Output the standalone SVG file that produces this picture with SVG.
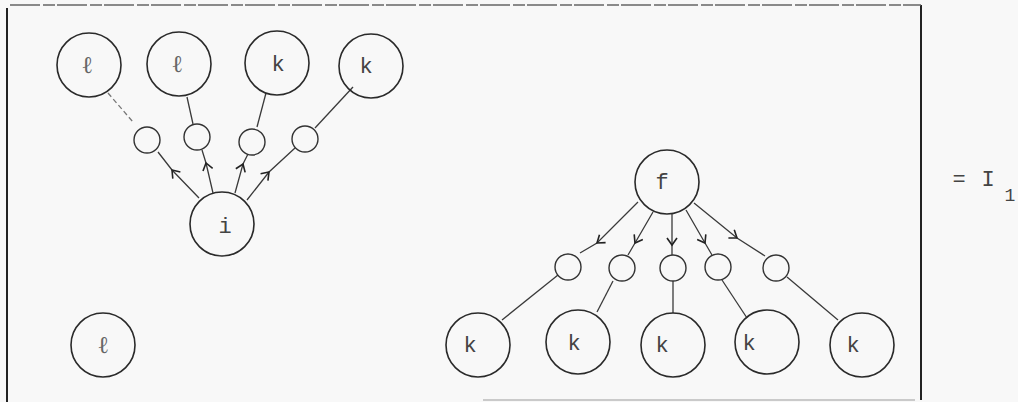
<svg xmlns="http://www.w3.org/2000/svg" width="1018" height="402" viewBox="0 0 1018 402">
<defs>
<style>
.n{fill:none;stroke:#2a2a2a;stroke-width:1.6}
.s{fill:none;stroke:#333;stroke-width:1.4}
.e{fill:none;stroke:#3a3a3a;stroke-width:1.3}
.f{stroke-dasharray:5 3;stroke:#777}
.t{font-family:"Liberation Mono","DejaVu Sans Mono",monospace;font-size:22px;fill:#444;text-anchor:middle}
.l{font-family:"DejaVu Serif","Liberation Serif",serif;font-size:24px;fill:#666;text-anchor:middle}
.b{fill:none;stroke:#222;stroke-width:2}
</style>
<marker id="ch" viewBox="-8 -6 12 12" markerWidth="12" markerHeight="12" refX="0" refY="0" orient="auto" markerUnits="userSpaceOnUse">
<path d="M-7,-5 L0,0 L-7,5" fill="none" stroke="#222" stroke-width="1.6"/>
</marker>
</defs>
<rect width="1018" height="402" fill="#f8f8f8"/>
<g id="frame">
<path class="b" d="M7,8 V402"/>
<path class="b" d="M921,5 V400"/>
<path d="M10,5 H921" fill="none" stroke="#666" stroke-width="1.4" stroke-dasharray="30 3 12 2"/>
<path d="M483,400 H915" fill="none" stroke="#bbb" stroke-width="1.5"/>
</g>
<g id="connectors">
<path class="e f" d="M108,93 L133,122"/>
<path class="e" d="M187,97 L193,124"/>
<path class="e" d="M266,93 L257,127"/>
<path class="e" d="M353,87 L315,128"/>
<path class="e" d="M199,198 L172,170 L158,152" marker-mid="url(#ch)"/>
<path class="e" d="M213,193 L206,163 L202,150" marker-mid="url(#ch)"/>
<path class="e" d="M235,193 L243,164 L248,154" marker-mid="url(#ch)"/>
<path class="e" d="M247,200 L269,172 L295,148" marker-mid="url(#ch)"/>
<path class="e" d="M638,202 L597,243 L580,253" marker-mid="url(#ch)"/>
<path class="e" d="M653,212 L635,243 L628,255" marker-mid="url(#ch)"/>
<path class="e" d="M672,214 L672,245 L672,255" marker-mid="url(#ch)"/>
<path class="e" d="M686,210 L705,243 L712,255" marker-mid="url(#ch)"/>
<path class="e" d="M694,203 L737,238 L765,256" marker-mid="url(#ch)"/>
<path class="e" d="M558,275 L502,320"/>
<path class="e" d="M613,281 L597,312"/>
<path class="e" d="M673,281 L673,313"/>
<path class="e" d="M722,280 L747,318"/>
<path class="e" d="M787,277 L838,320"/>
</g>
<g id="l1"><circle class="n" cx="89" cy="65" r="32"/><text class="l" x="87" y="73">ℓ</text></g>
<g id="l2"><circle class="n" cx="179" cy="64" r="32"/><text class="l" x="177" y="72">ℓ</text></g>
<g id="k1"><circle class="n" cx="277" cy="63" r="32"/><text class="t" x="278" y="71">k</text></g>
<g id="k2"><circle class="n" cx="371" cy="66" r="32"/><text class="t" x="366" y="73">k</text></g>
<g id="a1"><circle class="s" cx="147" cy="140" r="13"/></g>
<g id="a2"><circle class="s" cx="197" cy="137" r="13"/></g>
<g id="a3"><circle class="s" cx="252" cy="142" r="13"/></g>
<g id="a4"><circle class="s" cx="305" cy="139" r="13"/></g>
<g id="i"><circle class="n" cx="222" cy="224" r="32"/><text class="t" x="225" y="233">i</text></g>
<g id="l3"><circle class="n" cx="103" cy="345" r="32"/><text class="l" x="103" y="353">ℓ</text></g>
<g id="f"><circle class="n" cx="667" cy="182" r="32"/><text class="t" x="662" y="189">f</text></g>
<g id="b1"><circle class="s" cx="568" cy="267" r="13"/></g>
<g id="b2"><circle class="s" cx="622" cy="268" r="13"/></g>
<g id="b3"><circle class="s" cx="673" cy="268" r="13"/></g>
<g id="b4"><circle class="s" cx="718" cy="267" r="13"/></g>
<g id="b5"><circle class="s" cx="776" cy="268" r="13"/></g>
<g id="c1"><circle class="n" cx="478" cy="345" r="32"/><text class="t" x="470" y="352">k</text></g>
<g id="c2"><circle class="n" cx="578" cy="342" r="32"/><text class="t" x="574" y="350">k</text></g>
<g id="c3"><circle class="n" cx="673" cy="345" r="32"/><text class="t" x="662" y="352">k</text></g>
<g id="c4"><circle class="n" cx="767" cy="342" r="32"/><text class="t" x="749" y="350">k</text></g>
<g id="c5"><circle class="n" cx="862" cy="345" r="32"/><text class="t" x="853" y="352">k</text></g>
<g id="label">
<text class="t" x="959" y="186">=</text>
<text class="t" x="988" y="186">I</text>
<text class="t" x="1010" y="201" style="font-size:18px">1</text>
</g>
</svg>
